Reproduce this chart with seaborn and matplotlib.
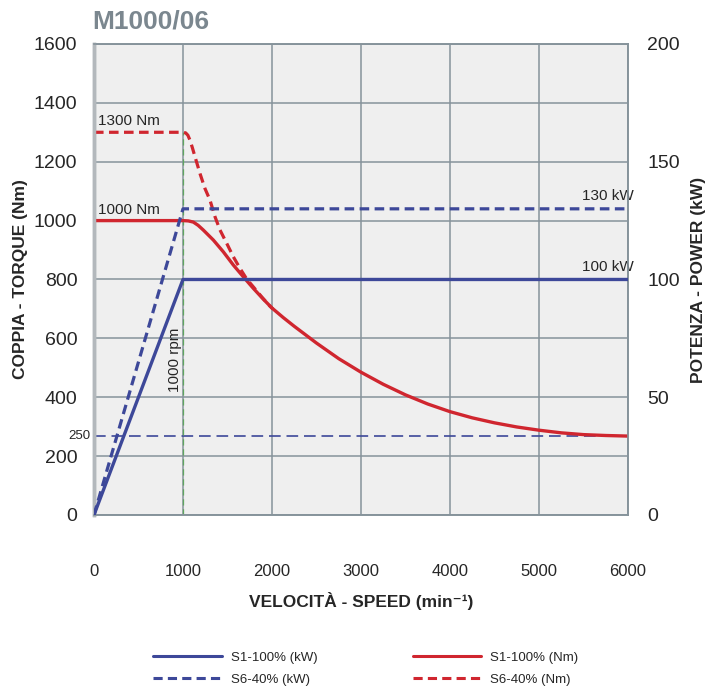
import matplotlib
matplotlib.use("Agg")
import matplotlib.pyplot as plt
from matplotlib.lines import Line2D
import pandas as pd
import seaborn as sns

# S1-100% torque curve (Nm)
rpm_s1_nm = [0, 1000, 1060, 1116, 1170, 1228, 1341, 1453, 1566, 1678, 1790, 1903,
             2000, 2125, 2250, 2500, 2750, 3000, 3250, 3500, 3750, 4000, 4250, 4500,
             4750, 5000, 5250, 5500, 5750, 6000]
nm_s1 = [1000, 1000, 999, 995, 984, 968, 934, 894, 849, 809, 770, 733,
         703, 671, 641, 584, 531, 485, 444, 408, 377, 351, 330, 313,
         299, 288, 279, 273, 270, 268]

# S6-40% torque curve (Nm)
rpm_s6_nm = [0, 1000, 1030, 1055, 1079, 1105, 1135, 1191, 1247, 1303, 1360, 1416,
             1491, 1566, 1640, 1715, 1790, 1884, 1978, 2010]
nm_s6 = [1300, 1300, 1298, 1290, 1273, 1248, 1217, 1160, 1109, 1070, 1013, 968,
         923, 877, 838, 802, 775, 741, 709, 700]

# power curves (kW)
rpm_kw = [0, 1000, 6000]
kw_s1 = [0, 100, 100]
kw_s6 = [0, 130, 130]

BASE_LINE = 268
BASE_LABEL = "250"
CORNER_RPM = 1000

x_ticks = [0, 1000, 2000, 3000, 4000, 5000, 6000]
nm_ticks = [0, 200, 400, 600, 800, 1000, 1200, 1400, 1600]
kw_ticks = [0, 50, 100, 150, 200]

BLUE = "#3d4899"
RED = "#d0262f"
GREEN = "#5fa55f"
GRID = "#86939b"
BG = "#efefef"
DASH = (0, (3, 1.7))

sns.set_theme(style="white")
plt.rcParams["font.family"] = ["Liberation Sans", "DejaVu Sans"]

df_s1 = pd.DataFrame({"rpm": rpm_s1_nm, "nm": nm_s1})
df_s6 = pd.DataFrame({"rpm": rpm_s6_nm, "nm": nm_s6})
df_kw = pd.DataFrame({"rpm": rpm_kw, "s1": kw_s1, "s6": kw_s6})

fig = plt.figure(figsize=(7.13, 6.86), dpi=100)
ax = fig.add_axes([0.1318, 0.2493, 0.749, 0.6866])
ax.set_facecolor(BG)
ax2 = ax.twinx()

# guide lines
ax.axhline(BASE_LINE, color=BLUE, lw=1.2, dashes=(7, 3.5), zorder=2)
ax.plot([CORNER_RPM, CORNER_RPM], [0, 1300], color=GREEN, lw=0.9, dashes=(5, 3), zorder=2)

# torque
sns.lineplot(data=df_s1, x="rpm", y="nm", ax=ax, color=RED, lw=2.4, zorder=4)
sns.lineplot(data=df_s6, x="rpm", y="nm", ax=ax, color=RED, lw=2.3, zorder=4,
             linestyle=DASH)

# power
sns.lineplot(data=df_kw, x="rpm", y="s1", ax=ax2, color=BLUE, lw=2.4, zorder=4)
sns.lineplot(data=df_kw, x="rpm", y="s6", ax=ax2, color=BLUE, lw=2.3, zorder=4,
             linestyle=DASH)

ax.set_xlim(0, 6000)
ax.set_ylim(0, 1600)
ax2.set_ylim(0, 200)
ax.set_xticks(x_ticks)
ax.set_yticks(nm_ticks)
ax2.set_yticks(kw_ticks)
ax.grid(True, color=GRID, lw=1.1)
ax.set_axisbelow(True)

ax.tick_params(axis="x", length=0, pad=35, labelsize=12)
ax.tick_params(axis="y", length=0, pad=12, labelsize=14)
ax2.tick_params(axis="y", length=0, pad=14, labelsize=14)

for a in (ax, ax2):
    for side in ("top", "right", "bottom"):
        a.spines[side].set_color(GRID)
        a.spines[side].set_linewidth(1.2)
    a.spines["left"].set_color("#b3b8bc")
    a.spines["left"].set_linewidth(2.5)

ax.set_xlabel("VELOCITÀ - SPEED (min⁻¹)", fontsize=12.5, fontweight="bold", labelpad=10)
ax.set_ylabel("COPPIA - TORQUE (Nm)", fontsize=12.5, fontweight="bold", labelpad=4)
ax2.set_ylabel("POTENZA - POWER (kW)", fontsize=12.5, fontweight="bold", labelpad=8)

# annotations
ax.text(45, 1340, "1300 Nm", fontsize=11, ha="left", va="center")
ax.text(45, 1036, "1000 Nm", fontsize=11, ha="left", va="center")
ax.text(5775, 1083, "130 kW", fontsize=11, ha="center", va="center")
ax.text(5775, 842, "100 kW", fontsize=11, ha="center", va="center")
ax.text(910, 526, "1000 rpm", fontsize=11, rotation=90, ha="center", va="center")
ax.text(-40, BASE_LINE, BASE_LABEL, fontsize=9.5, ha="right", va="center")

fig.text(0.130, 0.968, "M1000/06", fontsize=19, fontweight="bold", color="#7b878f",
         ha="left", va="center")

handles = [
    Line2D([], [], color=BLUE, lw=2.2, label="S1-100% (kW)"),
    Line2D([], [], color=BLUE, lw=2.2, linestyle=DASH, label="S6-40% (kW)"),
    Line2D([], [], color=RED, lw=2.2, label="S1-100% (Nm)"),
    Line2D([], [], color=RED, lw=2.2, linestyle=DASH, label="S6-40% (Nm)"),
]
fig.legend(handles=handles, ncol=2, loc="center", bbox_to_anchor=(0.513, 0.025),
           frameon=False, fontsize=9.5, handlelength=5.2, columnspacing=7.2,
           handletextpad=0.7, labelspacing=0.75)

fig.savefig("out.png", dpi=100)
plt.close(fig)
